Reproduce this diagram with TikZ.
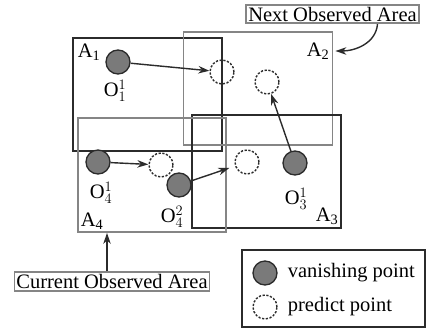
\documentclass[tikz,border=0pt]{standalone}
\usepackage{fontspec}
\setmainfont{Liberation Serif}
\usetikzlibrary{arrows.meta, positioning}
\definecolor{frame}{HTML}{2B2B2B}
\definecolor{framelight}{HTML}{858585}
\definecolor{dotfill}{HTML}{7A7A7A}

\begin{document}
\begin{tikzpicture}[x=1pt, y=-1pt,
            font=\fontsize{20.5}{24}\selectfont,
            area/.style={draw=frame, line width=1.8pt, inner sep=0pt,
                         minimum width=149pt, minimum height=113pt},
            arealight/.style={area, draw=framelight},
            vanish/.style={circle, draw=frame, fill=dotfill, line width=1.3pt,
                           minimum size=24pt, inner sep=0pt},
            predict/.style={circle, draw=frame, dash pattern=on 2.2pt off 1.6pt,
                            line width=1.4pt, minimum size=24pt, inner sep=0pt},
            tag/.style={inner sep=1pt},
            caption/.style={draw=framelight, line width=1.7pt, inner sep=2pt},
            arr/.style={-{Stealth[length=11pt, width=7.5pt]}, line width=1.4pt, color=frame}
          ]
          \useasboundingbox (0,0) rectangle (427,329);
          % observed areas
          \node[area] (area1) at (147.5,94.5) {};
          \node[arealight] (area2) at (258,88.5) {};
          \node[area] (area3) at (266.5,171.5) {};
          \node[arealight, minimum width=148pt, minimum height=114pt] (area4) at (152,175) {};
          \node[tag] (lbl1) at (89,52) {A\textsubscript{1}};
          \node[tag] (lbl2) at (318,51) {A\textsubscript{2}};
          \node[tag] (lbl3) at (327,216) {A\textsubscript{3}};
          \node[tag] (lbl4) at (92,221) {A\textsubscript{4}};
          % points
          \node[vanish] (o11) at (118,62) {};
          \node[vanish] (o41) at (98,162) {};
          \node[vanish] (o42) at (179,185) {};
          \node[vanish] (o31) at (295,163) {};
          \node[predict] (p1) at (222,72) {};
          \node[predict] (p2) at (267,82) {};
          \node[predict] (p3) at (247,162) {};
          \node[predict] (p4) at (161,165) {};
          \node[tag] at (115,91) {$\mathrm{O}^1_1$};
          \node[tag] at (101,193) {$\mathrm{O}^1_4$};
          \node[tag] at (172,217) {$\mathrm{O}^2_4$};
          \node[tag] at (296,199) {$\mathrm{O}^1_3$};
          \draw[arr] (o11) -- (p1);
          \draw[arr] (o41) -- (p4);
          \draw[arr, shorten >=6pt] (o42) -- (p3);
          \draw[arr] (o31) -- (p2);
          % captions
          \node[caption] (nextarea) at (332.5,14) {Next Observed Area};
          \node[caption] (curarea) at (112,281.5) {Current Observed Area};
          \coordinate (n2) at ([xshift=2pt]area2.east |- lbl2);
          \draw[arr] ([xshift=45pt]nextarea.south) to[out=-95, in=0] (n2);
          \draw[arr] ([xshift=-5pt]curarea.north) -- ([xshift=-5pt]curarea.north |- area4.south);
          % legend
          \node[draw=frame, line width=1.8pt, minimum width=183pt, minimum height=77pt] (legend) at (333.5,288.5) {};
          \node[vanish] (keyv) at (265,273) {};
          \node[tag, right=9pt of keyv] {vanishing point};
          \node[predict] (keyp) at (265,307) {};
          \node[tag, right=9pt of keyp] {predict point};
        \end{tikzpicture}
\end{document}
